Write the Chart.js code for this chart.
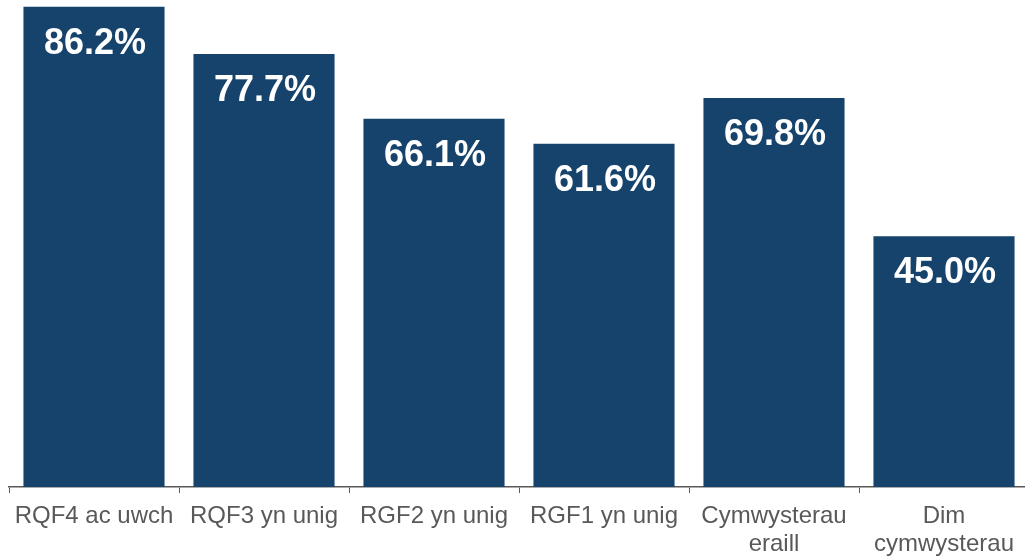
<!DOCTYPE html>
<html lang="cy">
<head>
<meta charset="UTF-8">
<title>Bar chart</title>
<script src="https://cdn.jsdelivr.net/npm/chart.js@4.4.1/dist/chart.umd.min.js"></script>
<style>
  html, body { margin: 0; padding: 0; background: #fff; overflow: hidden; }
  #wrap { width: 1030px; height: 558px; position: relative; }
</style>
</head>
<body>
<div id="wrap"><canvas id="myChart"></canvas></div>
<script>
const categories = [
  'RQF4 ac uwch',
  'RQF3 yn unig',
  'RGF2 yn unig',
  'RGF1 yn unig',
  ['Cymwysterau', 'eraill'],
  ['Dim', 'cymwysterau']
];
const values = [86.2, 77.7, 66.1, 61.6, 69.8, 45.0];

// white value labels inside the top of each bar
const barLabels = {
  id: 'barLabels',
  afterDatasetsDraw(chart) {
    const ctx = chart.ctx;
    const meta = chart.getDatasetMeta(0);
    ctx.save();
    ctx.fillStyle = '#ffffff';
    ctx.font = 'bold 36px "Liberation Sans", Arial, sans-serif';
    ctx.textAlign = 'center';
    ctx.textBaseline = 'middle';
    meta.data.forEach((bar, i) => {
      ctx.fillText(values[i].toFixed(1) + '%', bar.x + 1, bar.y + 37);
    });
    ctx.restore();
  }
};

new Chart(document.getElementById('myChart'), {
  type: 'bar',
  data: {
    labels: categories,
    datasets: [{
      data: values,
      backgroundColor: '#16436c',
      borderWidth: 0,
      categoryPercentage: 0.83,
      barPercentage: 1
    }]
  },
  options: {
    responsive: true,
    maintainAspectRatio: false,
    animation: false,
    layout: { padding: { left: 9, right: 1, top: 0, bottom: 0 } },
    plugins: {
      legend: { display: false },
      tooltip: { enabled: false }
    },
    scales: {
      y: {
        display: false,
        min: 0,
        max: 87.4
      },
      x: {
        offset: true,
        afterFit(scale) { scale.height = 71; },
        grid: {
          display: true,
          drawOnChartArea: false,
          drawTicks: true,
          tickLength: 6,
          color: '#595959',
          offset: true
        },
        border: { display: true, color: '#595959', width: 1.5 },
        ticks: {
          color: '#595959',
          padding: 10,
          maxRotation: 0,
          autoSkip: false,
          font: { family: '"Liberation Sans", Arial, sans-serif', size: 24, lineHeight: 1.15 }
        }
      }
    }
  },
  plugins: [barLabels]
});
</script>
</body>
</html>
